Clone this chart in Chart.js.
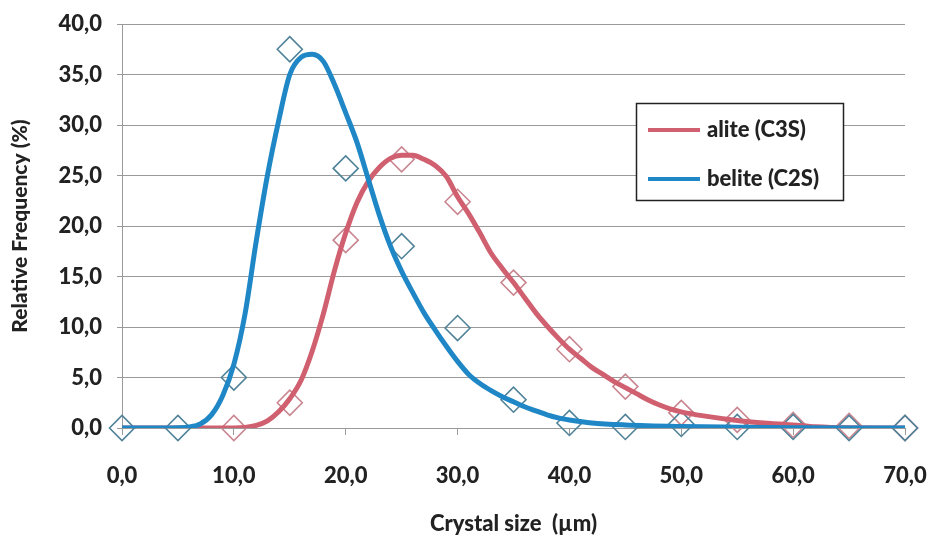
<!DOCTYPE html>
<html>
<head>
<meta charset="utf-8">
<script src="https://cdn.jsdelivr.net/npm/chart.js@4.4.1/dist/chart.umd.min.js"></script>
<style>
  html, body { margin: 0; padding: 0; background: #ffffff; }
  #wrap { position: relative; width: 933px; height: 536px; }
</style>
</head>
<body>
<div id="wrap"><canvas id="c" width="933" height="536"></canvas></div>
<script>
// ---- Data ----
const sampleSizes = [0, 5, 10, 15, 20, 25, 30, 35, 40, 45, 50, 55, 60, 65, 70];
const aliteSamples = [null, null, 0.0, 2.5, 18.6, 26.6, 22.4, 14.4, 7.8, 4.1, 1.5, 0.8, 0.3, 0.2, 0.0];
const beliteSamples = [0.0, 0.0, 5.0, 37.5, 25.7, 18.0, 9.9, 2.8, 0.5, 0.1, 0.4, 0.1, 0.1, 0.0, 0.0];

const aliteCurveX = [0, 5, 10, 11, 12, 13, 14, 15, 16, 17, 18, 19, 20, 21, 22, 23, 24, 25, 26, 27, 28, 29, 30, 31, 32, 33, 34, 35, 36, 37, 38, 39, 40, 41, 42, 43, 44, 45, 46, 47, 48, 49, 50, 52, 55, 58, 60, 62, 65, 70];
const aliteCurveY = [0, 0, 0, 0.05, 0.25, 0.7, 1.6, 2.9, 4.7, 7.6, 11.3, 15.6, 19.3, 22.3, 24.4, 25.8, 26.7, 27.0, 27.0, 26.6, 26.0, 24.9, 22.9, 21.2, 19.3, 17.3, 15.8, 14.4, 12.9, 11.4, 10.1, 8.9, 7.8, 6.9, 6.0, 5.3, 4.6, 4.0, 3.4, 2.8, 2.3, 1.9, 1.6, 1.2, 0.75, 0.45, 0.3, 0.12, 0.02, 0];

const beliteCurveX = [0, 2, 4, 5, 6, 7, 8, 9, 10, 11, 12, 13, 14, 15, 16, 17, 18, 19, 20, 21, 22, 23, 24, 25, 26, 27, 28, 29, 30, 31, 32, 33, 34, 35, 36, 37, 38, 39, 40, 42, 45, 50, 55, 60, 65, 70];
const beliteCurveY = [0, 0, 0, 0.02, 0.1, 0.4, 1.3, 3.2, 6.3, 11.3, 18.5, 25, 30.4, 35, 36.7, 37.0, 36.3, 34, 31.2, 28.3, 24.7, 21.1, 18.0, 15.5, 13.4, 11.4, 9.7, 8.1, 6.6, 5.3, 4.4, 3.7, 3.1, 2.6, 2.1, 1.7, 1.3, 1.0, 0.8, 0.5, 0.3, 0.15, 0.08, 0.03, 0, 0];

const seriesNames = ['alite (C3S)', 'belite (C2S)'];
const xTickLabels = ['0,0', '10,0', '20,0', '30,0', '40,0', '50,0', '60,0', '70,0'];
const yTickLabels = ['0,0', '5,0', '10,0', '15,0', '20,0', '25,0', '30,0', '35,0', '40,0'];
const xTitle = 'Crystal size  (µm)';
const yTitle = 'Relative Frequency (%)';

// ---- Styles ----
const RED = '#d0606f';
const BLUE = '#1f87c6';
const RED_MK = '#c98690';
const BLUE_MK = '#4f8298';
const TXT = '#222222';
const GRID = '#9a9a9a';
const FONT = 'Lato';

function pts(xs, ys) {
  const out = [];
  for (let i = 0; i < xs.length; i++) if (ys[i] !== null) out.push({x: xs[i], y: ys[i]});
  return out;
}

const legendBox = {
  id: 'legendBox',
  afterDraw(chart) {
    const ctx = chart.ctx;
    const x0 = 636, y0 = 103, w = 207, h = 97;
    ctx.save();
    ctx.fillStyle = '#ffffff';
    ctx.fillRect(x0, y0, w, h);
    ctx.strokeStyle = '#222222';
    ctx.lineWidth = 1.5;
    ctx.strokeRect(x0 + 0.5, y0 + 0.5, w, h);
    const items = chart.data.datasets.filter(d => d.isCurve);
    const rows = [130, 179];
    items.forEach((d, i) => {
      const y = rows[i];
      ctx.strokeStyle = d.borderColor;
      ctx.lineWidth = 4;
      ctx.beginPath();
      ctx.moveTo(648, y);
      ctx.lineTo(700, y);
      ctx.stroke();
      ctx.fillStyle = TXT;
      ctx.font = '900 22px ' + FONT;
      ctx.textBaseline = 'middle';
      ctx.textAlign = 'left';
      ctx.fillText(d.label, 707, y);
    });
    ctx.restore();
  }
};

new Chart(document.getElementById('c'), {
  type: 'scatter',
  data: {
    datasets: [
      { label: seriesNames[0], isCurve: true, data: pts(aliteCurveX, aliteCurveY), showLine: true,
        borderColor: RED, borderWidth: 5, pointRadius: 0, cubicInterpolationMode: 'monotone', order: 1 },
      { label: seriesNames[1], isCurve: true, data: pts(beliteCurveX, beliteCurveY), showLine: true,
        borderColor: BLUE, borderWidth: 5, pointRadius: 0, cubicInterpolationMode: 'monotone', order: 0 },
      { label: seriesNames[0] + ' data', data: pts(sampleSizes, aliteSamples), showLine: false, clip: false,
        pointStyle: 'rectRot', pointRadius: 12.5, borderColor: RED_MK, backgroundColor: 'rgba(0,0,0,0)', pointBorderWidth: 1.6, order: 3 },
      { label: seriesNames[1] + ' data', data: pts(sampleSizes, beliteSamples), showLine: false, clip: false,
        pointStyle: 'rectRot', pointRadius: 12.5, borderColor: BLUE_MK, backgroundColor: 'rgba(0,0,0,0)', pointBorderWidth: 1.6, order: 2 }
    ]
  },
  options: {
    responsive: false,
    animation: false,
    events: [],
    layout: { padding: { top: 24, right: 28, left: 0, bottom: 0 } },
    plugins: { legend: { display: false }, tooltip: { enabled: false } },
    scales: {
      x: {
        type: 'linear', min: 0, max: 70,
        afterFit(s) { s.height = 108; s.paddingRight = 0; s.paddingLeft = 0; },
        afterBuildTicks(s) { s.ticks = xTickLabels.map((_, i) => ({ value: i * 10 })); },
        ticks: {
          callback: (v, i) => xTickLabels[i],
          color: TXT, font: { family: FONT, size: 22, weight: '900' }, padding: 28, maxRotation: 0
        },
        grid: { drawOnChartArea: false, color: GRID, tickLength: 7, tickColor: GRID },
        border: { color: GRID, width: 1 },
        title: { display: true, text: xTitle, color: TXT, font: { family: FONT, size: 22, weight: '900', lineHeight: 1 }, padding: { top: 0, bottom: 1 } }
      },
      y: {
        type: 'linear', min: 0, max: 40,
        afterFit(s) { s.width = 122; s.paddingTop = 0; s.paddingBottom = 0; },
        afterBuildTicks(s) { s.ticks = yTickLabels.map((_, i) => ({ value: i * 5 })); },
        ticks: {
          callback: (v, i) => yTickLabels[i],
          color: TXT, font: { family: FONT, size: 22, weight: '900' }, padding: 15
        },
        grid: { color: GRID, tickLength: 5, tickColor: GRID, lineWidth: 1 },
        border: { color: GRID, width: 1 },
        title: { display: true, text: yTitle, color: TXT, font: { family: FONT, size: 21, weight: '900', lineHeight: 1 }, padding: { top: 10, bottom: 0 } }
      }
    }
  },
  plugins: [legendBox]
});
</script>
</body>
</html>
